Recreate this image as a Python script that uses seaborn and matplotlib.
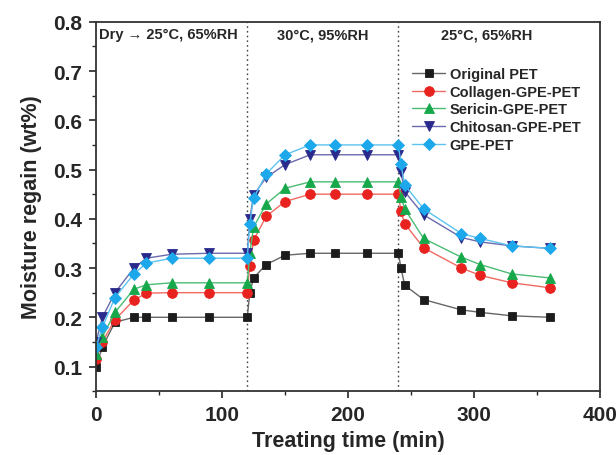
import numpy as np
import pandas as pd
import matplotlib
matplotlib.use("Agg")
import matplotlib.pyplot as plt
import seaborn as sns
from matplotlib.ticker import MultipleLocator

# ==============================================================
# DATA
# ==============================================================
time_min = [0, 5, 15, 30, 40, 60, 90, 120, 122, 125, 135, 150, 170, 190, 215,
            240, 242, 245, 260, 290, 305, 330, 360]

original_pet = [0.10, 0.14, 0.19, 0.20, 0.20, 0.20, 0.20, 0.20, 0.25, 0.28, 0.307,
                0.326, 0.33, 0.33, 0.33, 0.33, 0.30, 0.265, 0.236, 0.215, 0.21,
                0.203, 0.20]
collagen_pet = [0.115, 0.15, 0.195, 0.235, 0.249, 0.25, 0.25, 0.25, 0.305, 0.356,
                0.405, 0.435, 0.45, 0.45, 0.45, 0.45, 0.415, 0.39, 0.341, 0.30,
                0.285, 0.27, 0.26]
sericin_pet = [0.125, 0.16, 0.21, 0.257, 0.266, 0.27, 0.27, 0.27, 0.33, 0.383,
               0.43, 0.462, 0.475, 0.475, 0.475, 0.475, 0.445, 0.42, 0.36, 0.322,
               0.307, 0.288, 0.28]
chitosan_pet = [0.15, 0.20, 0.25, 0.30, 0.32, 0.328, 0.33, 0.33, 0.40, 0.448,
                0.484, 0.51, 0.53, 0.53, 0.53, 0.53, 0.495, 0.455, 0.408, 0.362,
                0.353, 0.345, 0.34]
gpe_pet = [0.14, 0.18, 0.24, 0.288, 0.31, 0.32, 0.32, 0.32, 0.39, 0.442, 0.491,
           0.53, 0.55, 0.55, 0.55, 0.55, 0.511, 0.469, 0.42, 0.37, 0.36, 0.345,
           0.34]

series_names = ["Original PET", "Collagen-GPE-PET", "Sericin-GPE-PET",
                "Chitosan-GPE-PET", "GPE-PET"]
series_values = [original_pet, collagen_pet, sericin_pet, chitosan_pet, gpe_pet]
phase_breaks = [120, 240]
phase_labels = ["Dry \u2192 25\u00b0C, 65%RH", "30\u00b0C, 95%RH", "25\u00b0C, 65%RH"]

# ==============================================================
# STYLE
# ==============================================================
sns.set_style("ticks")
plt.rcParams['font.family'] = ['Liberation Sans', 'DejaVu Sans']
plt.rcParams['font.weight'] = 'bold'

marker_colors = ["#1c1c1c", "#e8221e", "#16a84a", "#2a2a8c", "#1ea8ec"]
line_colors = ["#666666", "#f06a62", "#4cbc74", "#6a6aae", "#5cc2f0"]
markers = ["s", "o", "^", "v", "D"]
sizes = [6, 7, 7, 7, 6]

data = pd.DataFrame({
    "time": np.tile(time_min, len(series_names)),
    "regain": np.concatenate(series_values),
    "sample": np.repeat(series_names, len(time_min)),
})

fig = plt.figure(figsize=(6.16, 4.56), dpi=100)
ax = fig.add_axes([0.156, 0.140, 0.818, 0.810])

for name, lc, mc, mk, ms in zip(series_names, line_colors, marker_colors, markers, sizes):
    sub = data[data["sample"] == name]
    sns.lineplot(x="time", y="regain", data=sub, ax=ax, color=lc, marker=mk,
                 markersize=ms, markeredgewidth=0.6, markeredgecolor=mc,
                 markerfacecolor=mc, linewidth=1.0, label=name, errorbar=None)

for xb in phase_breaks:
    ax.axvline(xb, color="#444444", linestyle=(0, (1.2, 2.2)), linewidth=1.0, zorder=0)

ax.text(2, 0.775, phase_labels[0], fontsize=10.5, fontweight="bold", va="center", ha="left")
ax.text(180, 0.775, phase_labels[1], fontsize=10.5, fontweight="bold", va="center", ha="center")
ax.text(310, 0.775, phase_labels[2], fontsize=10.5, fontweight="bold", va="center", ha="center")

ax.set_xlim(0, 400)
ax.set_ylim(0.05, 0.8)
ax.xaxis.set_major_locator(MultipleLocator(100))
ax.xaxis.set_minor_locator(MultipleLocator(50))
ax.yaxis.set_major_locator(MultipleLocator(0.1))
ax.yaxis.set_minor_locator(MultipleLocator(0.05))
ax.tick_params(which="major", length=5, width=1.2, labelsize=15, pad=5)
ax.tick_params(which="minor", length=3, width=1.0)
for lab in ax.get_xticklabels() + ax.get_yticklabels():
    lab.set_fontweight("bold")
for sp in ax.spines.values():
    sp.set_linewidth(1.3)
    sp.set_color("#333333")

ax.set_xlabel("Treating time (min)", fontsize=15.5, fontweight="bold", labelpad=4)
ax.set_ylabel("Moisture regain (wt%)", fontsize=15.5, fontweight="bold", labelpad=8)

leg = ax.legend(loc="upper left", bbox_to_anchor=(0.615, 0.893), frameon=False,
                fontsize=10.5, handlelength=2.3, handletextpad=0.3, labelspacing=0.25,
                borderaxespad=0)
for t in leg.get_texts():
    t.set_fontweight("bold")

fig.savefig("out.png", dpi=100)
